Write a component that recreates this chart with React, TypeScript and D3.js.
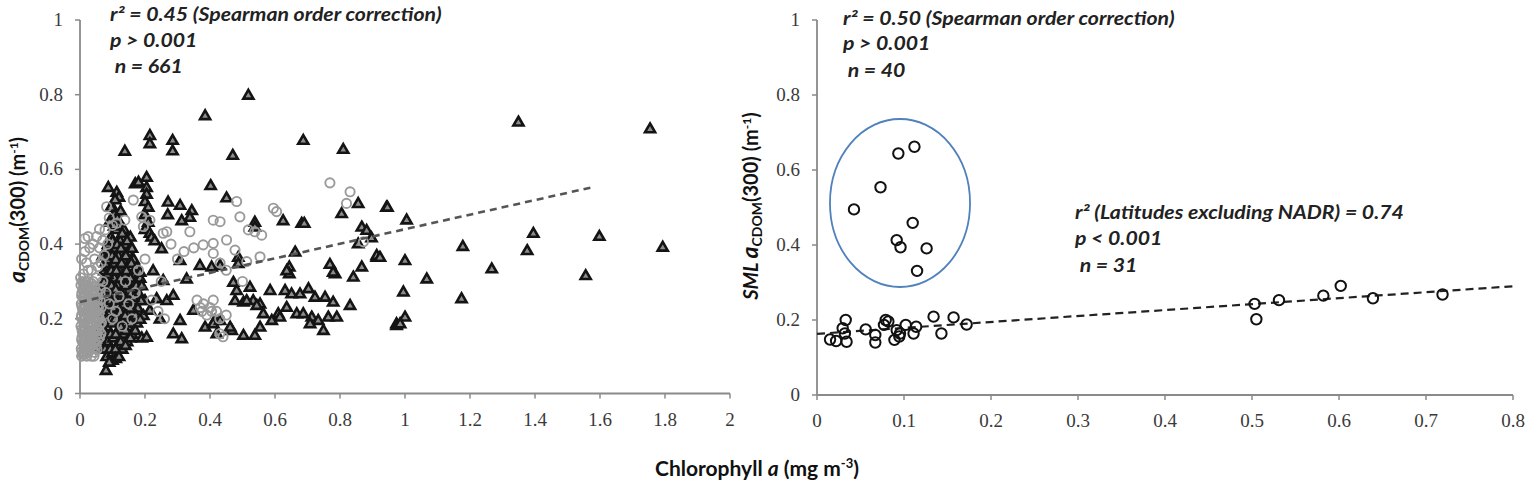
import React from 'react';
import * as d3 from 'd3';

// Left panel: open grey circles and dark triangles [chl a, aCDOM(300)]
const leftCircles: [number, number][] = [
  [0.004, 0.12], [0.006, 0.15], [0.003, 0.18], [0.005, 0.21], [0.004, 0.24], [0.006, 0.27], [0.003, 0.29], [0.005, 0.1],
  [0.012, 0.11], [0.014, 0.14], [0.011, 0.17], [0.013, 0.2], [0.012, 0.23], [0.015, 0.26], [0.013, 0.29], [0.016, 0.13],
  [0.021, 0.1], [0.022, 0.125], [0.02, 0.155], [0.023, 0.185], [0.021, 0.215], [0.024, 0.245], [0.022, 0.275], [0.025, 0.3],
  [0.03, 0.115], [0.032, 0.14], [0.029, 0.17], [0.031, 0.2], [0.033, 0.23], [0.03, 0.26], [0.032, 0.285],
  [0.04, 0.12], [0.041, 0.15], [0.039, 0.18], [0.042, 0.21], [0.04, 0.24], [0.043, 0.27],
  [0.05, 0.13], [0.052, 0.16], [0.049, 0.19], [0.051, 0.22], [0.053, 0.25],
  [0.058, 0.17], [0.06, 0.2], [0.057, 0.23],
  [0.008, 0.105], [0.009, 0.135], [0.007, 0.165], [0.009, 0.195], [0.008, 0.225], [0.01, 0.255], [0.009, 0.28],
  [0.017, 0.115], [0.018, 0.145], [0.017, 0.175], [0.018, 0.205], [0.017, 0.235], [0.019, 0.265],
  [0.026, 0.13], [0.027, 0.16], [0.026, 0.19], [0.027, 0.22], [0.026, 0.25], [0.028, 0.28],
  [0.035, 0.1], [0.036, 0.13], [0.035, 0.16], [0.036, 0.19], [0.035, 0.215], [0.037, 0.245], [0.036, 0.275],
  [0.045, 0.11], [0.046, 0.14], [0.045, 0.165], [0.047, 0.195], [0.046, 0.225], [0.047, 0.255],
  [0.006, 0.113], [0.005, 0.143], [0.006, 0.173], [0.004, 0.203], [0.006, 0.233], [0.005, 0.262], [0.007, 0.3],
  [0.015, 0.105], [0.014, 0.158], [0.015, 0.188], [0.014, 0.218], [0.015, 0.248], [0.016, 0.278], [0.018, 0.298],
  [0.024, 0.11], [0.025, 0.14], [0.024, 0.17], [0.025, 0.2], [0.024, 0.23], [0.025, 0.262], [0.023, 0.29],
  [0.033, 0.125], [0.034, 0.152], [0.033, 0.182], [0.034, 0.208], [0.033, 0.24], [0.034, 0.268], [0.035, 0.295],
  [0.043, 0.1], [0.044, 0.133], [0.043, 0.17], [0.044, 0.203], [0.043, 0.232], [0.044, 0.262], [0.045, 0.285],
  [0.052, 0.118], [0.053, 0.175], [0.052, 0.205], [0.054, 0.235], [0.053, 0.27], [0.06, 0.15], [0.061, 0.185],
  [0.059, 0.215], [0.062, 0.265], [0.065, 0.23], [0.066, 0.19], [0.064, 0.16],
  [0.055, 0.145], [0.056, 0.2], [0.062, 0.25], [0.063, 0.28], [0.002, 0.31], [0.04, 0.3], [0.05, 0.31], [0.025, 0.33],
  [0.055, 0.34], [0.005, 0.36], [0.015, 0.38], [0.04, 0.4], [0.07, 0.41], [0.075, 0.37], [0.085, 0.4], [0.06, 0.44], [0.025, 0.42],
  [0.01, 0.32], [0.02, 0.35], [0.035, 0.33], [0.045, 0.36], [0.03, 0.39], [0.015, 0.415], [0.051, 0.42], [0.06, 0.39],
  [0.065, 0.35], [0.077, 0.438], [0.082, 0.5], [0.09, 0.47], [0.1, 0.45], [0.113, 0.456], [0.138, 0.464], [0.164, 0.518],
  [0.19, 0.473], [0.215, 0.464], [0.195, 0.447], [0.07, 0.3], [0.08, 0.27], [0.09, 0.24], [0.1, 0.2], [0.11, 0.22],
  [0.12, 0.26], [0.13, 0.18], [0.14, 0.3], [0.15, 0.24], [0.16, 0.2], [0.17, 0.27], [0.18, 0.33], [0.2, 0.36],
  [0.22, 0.25], [0.24, 0.22], [0.25, 0.3], [0.26, 0.2], [0.28, 0.4], [0.3, 0.36], [0.256, 0.429], [0.267, 0.433],
  [0.32, 0.38], [0.338, 0.433], [0.35, 0.39], [0.36, 0.25], [0.37, 0.23], [0.375, 0.22], [0.38, 0.24], [0.39, 0.21],
  [0.4, 0.23], [0.405, 0.22], [0.41, 0.25], [0.42, 0.22], [0.43, 0.2], [0.44, 0.152], [0.45, 0.21], [0.379, 0.398],
  [0.41, 0.402], [0.41, 0.375], [0.41, 0.464], [0.431, 0.46], [0.451, 0.411], [0.477, 0.384], [0.431, 0.349], [0.482, 0.514],
  [0.492, 0.473], [0.518, 0.438], [0.538, 0.433], [0.559, 0.424], [0.554, 0.366], [0.513, 0.353], [0.595, 0.496], [0.605, 0.487],
  [0.769, 0.564], [0.831, 0.54], [0.82, 0.509], [0.872, 0.406], [0.5, 0.3], [0.45, 0.33], [0.43, 0.16],
];

const leftTriangles: [number, number][] = [
  [0.06, 0.12], [0.065, 0.16], [0.07, 0.2], [0.068, 0.24], [0.072, 0.28], [0.075, 0.33], [0.07, 0.37], [0.08, 0.063],
  [0.082, 0.1], [0.085, 0.14], [0.083, 0.18], [0.088, 0.22], [0.086, 0.26], [0.09, 0.3], [0.088, 0.34], [0.092, 0.38],
  [0.095, 0.42], [0.09, 0.46], [0.087, 0.553], [0.1, 0.11], [0.102, 0.15], [0.098, 0.19], [0.104, 0.23], [0.1, 0.27],
  [0.106, 0.31], [0.103, 0.35], [0.108, 0.39], [0.1, 0.5], [0.105, 0.48], [0.113, 0.54], [0.12, 0.527], [0.115, 0.13],
  [0.118, 0.17], [0.112, 0.21], [0.12, 0.25], [0.116, 0.29], [0.122, 0.33], [0.118, 0.37], [0.124, 0.41], [0.12, 0.45],
  [0.13, 0.12], [0.133, 0.16], [0.128, 0.2], [0.135, 0.24], [0.13, 0.28], [0.137, 0.32], [0.132, 0.36], [0.14, 0.4],
  [0.135, 0.44], [0.138, 0.65], [0.145, 0.14], [0.148, 0.18], [0.143, 0.22], [0.15, 0.26], [0.146, 0.3], [0.152, 0.34],
  [0.148, 0.38], [0.155, 0.42], [0.16, 0.16], [0.163, 0.2], [0.158, 0.24], [0.165, 0.28], [0.17, 0.32], [0.165, 0.36],
  [0.17, 0.563], [0.18, 0.567], [0.175, 0.19], [0.178, 0.23], [0.18, 0.27], [0.185, 0.31], [0.19, 0.15], [0.195, 0.21],
  [0.2, 0.25], [0.205, 0.58], [0.205, 0.553], [0.205, 0.535], [0.2, 0.515], [0.21, 0.5], [0.2, 0.48], [0.21, 0.46],
  [0.2, 0.44], [0.215, 0.43], [0.22, 0.42], [0.23, 0.41], [0.215, 0.692], [0.215, 0.67], [0.285, 0.679], [0.285, 0.651],
  [0.062, 0.14], [0.066, 0.18], [0.069, 0.22], [0.071, 0.26], [0.074, 0.3], [0.078, 0.35], [0.077, 0.12], [0.079, 0.16],
  [0.081, 0.2], [0.08, 0.24], [0.082, 0.28], [0.084, 0.32], [0.083, 0.36], [0.086, 0.4], [0.093, 0.12], [0.094, 0.16],
  [0.096, 0.2], [0.095, 0.25], [0.097, 0.29], [0.096, 0.33], [0.099, 0.37], [0.1, 0.41], [0.109, 0.12], [0.11, 0.16],
  [0.108, 0.2], [0.111, 0.25], [0.11, 0.28], [0.112, 0.33], [0.11, 0.36], [0.114, 0.4], [0.112, 0.44], [0.125, 0.14],
  [0.126, 0.18], [0.124, 0.22], [0.127, 0.27], [0.125, 0.31], [0.128, 0.35], [0.126, 0.39], [0.13, 0.43], [0.14, 0.13],
  [0.141, 0.17], [0.139, 0.21], [0.142, 0.25], [0.14, 0.29], [0.143, 0.33], [0.141, 0.37], [0.145, 0.41], [0.155, 0.15],
  [0.156, 0.19], [0.154, 0.23], [0.157, 0.27], [0.155, 0.31], [0.158, 0.35], [0.16, 0.39], [0.17, 0.17], [0.172, 0.21],
  [0.17, 0.25], [0.173, 0.29], [0.175, 0.34], [0.185, 0.2], [0.188, 0.25], [0.19, 0.29], [0.1, 0.09], [0.11, 0.095],
  [0.12, 0.1], [0.09, 0.085], [0.105, 0.45], [0.095, 0.5], [0.115, 0.47], [0.125, 0.49], [0.108, 0.52],
  [0.385, 0.745], [0.518, 0.8], [0.47, 0.639], [0.687, 0.679], [0.81, 0.655], [0.271, 0.514], [0.308, 0.505], [0.344, 0.491],
  [0.338, 0.473], [0.313, 0.464], [0.27, 0.48], [0.402, 0.558], [0.451, 0.525], [0.538, 0.46], [0.538, 0.447], [0.625, 0.464],
  [0.682, 0.457], [0.69, 0.457], [0.856, 0.51], [0.943, 0.5], [0.805, 0.483], [0.867, 0.447], [0.882, 0.438], [0.897, 0.418],
  [0.856, 0.402], [0.913, 0.366], [0.662, 0.38], [0.644, 0.34], [0.644, 0.322], [0.769, 0.347], [0.785, 0.322], [0.867, 0.34],
  [0.841, 0.313], [0.487, 0.366], [0.487, 0.349],
  [0.472, 0.299], [0.523, 0.286], [0.585, 0.277], [0.631, 0.277], [0.651, 0.268], [0.677, 0.268], [0.703, 0.282], [0.723, 0.259],
  [0.754, 0.259], [0.779, 0.246], [0.831, 0.237], [0.477, 0.25], [0.503, 0.246], [0.533, 0.25], [0.554, 0.241], [0.564, 0.215],
  [0.61, 0.215], [0.636, 0.232], [0.667, 0.215], [0.687, 0.215], [0.713, 0.206], [0.733, 0.197], [0.764, 0.206], [0.79, 0.206],
  [0.615, 0.206], [0.59, 0.197], [0.554, 0.179], [0.503, 0.157], [0.538, 0.157], [0.467, 0.17], [0.415, 0.197], [0.385, 0.179],
  [0.421, 0.161], [0.749, 0.17], [0.708, 0.188], [0.974, 0.188],
  [0.185, 0.326], [0.225, 0.33], [0.251, 0.389], [0.256, 0.304], [0.308, 0.357], [0.328, 0.308], [0.369, 0.344], [0.405, 0.34],
  [0.431, 0.344], [0.349, 0.224], [0.41, 0.188], [0.431, 0.197], [0.462, 0.179], [0.287, 0.161], [0.313, 0.148], [0.205, 0.152],
  [0.246, 0.201], [0.267, 0.25], [0.308, 0.197], [0.215, 0.224], [0.164, 0.259], [0.236, 0.255], [0.287, 0.264],
  [0.482, 0.277], [0.513, 0.25], [0.544, 0.237], [0.636, 0.33], [0.779, 0.326], [0.913, 0.371], [0.974, 0.183],
  [0.946, 0.5], [1.005, 0.466], [1.349, 0.728], [1.754, 0.71], [1.395, 0.43], [1.598, 0.422], [1.178, 0.395], [1.376, 0.384],
  [1.793, 0.393], [1.0, 0.357], [1.267, 0.335], [1.067, 0.308], [1.556, 0.317], [0.995, 0.273], [1.174, 0.255], [1.0, 0.206],
  [0.985, 0.188], [0.923, 0.366],
];

// Right panel: SML points
const rightPoints: [number, number][] = [
  [0.0425, 0.495], [0.073, 0.554], [0.0935, 0.644], [0.112, 0.662], [0.11, 0.459], [0.0916, 0.413], [0.096, 0.394], [0.126, 0.391],
  [0.115, 0.331],
  [0.015, 0.148], [0.022, 0.144], [0.033, 0.2], [0.0295, 0.178], [0.032, 0.164], [0.034, 0.142], [0.056, 0.175], [0.067, 0.16],
  [0.067, 0.14], [0.079, 0.2], [0.082, 0.196], [0.077, 0.187], [0.089, 0.147], [0.0916, 0.173], [0.0954, 0.164], [0.0946, 0.156],
  [0.102, 0.187], [0.111, 0.164], [0.114, 0.182], [0.134, 0.209], [0.143, 0.164], [0.157, 0.207], [0.172, 0.188],
  [0.503, 0.243], [0.505, 0.202], [0.531, 0.253], [0.582, 0.265], [0.602, 0.291], [0.639, 0.258], [0.719, 0.268],
];

const leftFit: [number, number][] = [[0, 0.245], [1.58, 0.553]];
const rightFit: [number, number][] = [[0, 0.163], [0.8, 0.29]];

const leftXTicks = [0, 0.2, 0.4, 0.6, 0.8, 1, 1.2, 1.4, 1.6, 1.8, 2];
const rightXTicks = [0, 0.1, 0.2, 0.3, 0.4, 0.5, 0.6, 0.7, 0.8];
const yTicks = [0, 0.2, 0.4, 0.6, 0.8, 1];

const W = 1535;
const H = 487;
const serif = 'Liberation Serif';
const sans = 'Lato, "Open Sans", sans-serif';
const axisColor = '#8a8a8a';
const tickColor = '#3a3a3a';

export default function App() {
  const xL = d3.scaleLinear().domain([0, 2]).range([80, 730]);
  const yL = d3.scaleLinear().domain([0, 1]).range([393.5, 20]);
  const xR = d3.scaleLinear().domain([0, 0.8]).range([817, 1513]);
  const yR = d3.scaleLinear().domain([0, 1]).range([395, 20]);
  const tri = d3.symbol().type(d3.symbolTriangle).size(44)() as string;

  const axes = (
    x: d3.ScaleLinear<number, number>,
    y: d3.ScaleLinear<number, number>,
    xt: number[],
    key: string
  ) => (
    <g key={key} style={{ fontFamily: serif }}>
      <line x1={x.range()[0]} x2={x.range()[1]} y1={y(0)} y2={y(0)} stroke={axisColor} strokeWidth={1.8} />
      <line x1={x.range()[0]} x2={x.range()[0]} y1={y(0)} y2={y(1)} stroke={axisColor} strokeWidth={1.8} />
      {xt.map((t) => (
        <g key={'x' + t}>
          <line x1={x(t)} x2={x(t)} y1={y(0)} y2={y(0) + 5} stroke={axisColor} strokeWidth={1.5} />
          <text x={x(t)} y={y(0) + 32} textAnchor="middle" style={{ fontFamily: serif }} fontSize={19} fill={tickColor}>
            {String(t)}
          </text>
        </g>
      ))}
      {yTicks.map((t) => (
        <g key={'y' + t}>
          <line x1={x.range()[0] - 5} x2={x.range()[0]} y1={y(t)} y2={y(t)} stroke={axisColor} strokeWidth={1.5} />
          <text x={x.range()[0] - 17} y={y(t) + 6} textAnchor="end" style={{ fontFamily: serif }} fontSize={19} fill={tickColor}>
            {String(t)}
          </text>
        </g>
      ))}
    </g>
  );

  const line = d3.line<[number, number]>();
  const note = (x: number, y: number, s: string) => (
    <text key={s + y} transform={`translate(${x},${y}) scale(1.18,1)`}>
      {s}
    </text>
  );

  return (
    <svg width={W} height={H} style={{ position: 'absolute', left: 0, top: 0, background: '#fff' }}>
      {axes(xL, yL, leftXTicks, 'L')}
      {axes(xR, yR, rightXTicks, 'R')}

      {/* left panel marks */}
      {leftTriangles.map((d, i) => (
        <path
          key={'t' + i}
          d={tri}
          transform={`translate(${xL(d[0])},${yL(d[1]) + 1})`}
          fill="#8c8c8c"
          stroke="#141414"
          strokeWidth={2.6}
        />
      ))}
      {leftCircles.map((d, i) => (
        <circle key={'c' + i} cx={xL(d[0])} cy={yL(d[1])} r={4.6} fill="none" stroke="#9a9a9a" strokeWidth={1.9} />
      ))}
      <path
        d={line(leftFit.map((d) => [xL(d[0]), yL(d[1])]) as [number, number][]) || ''}
        stroke="#555"
        strokeWidth={2.6}
        strokeDasharray="7,5"
        fill="none"
      />

      {/* right panel marks */}
      <ellipse
        cx={xR(0.0954)}
        cy={yR(0.512)}
        rx={xR(0.0954 + 0.0805) - xR(0.0954)}
        ry={yR(0.512) - yR(0.512 + 0.224)}
        fill="none"
        stroke="#4f81bd"
        strokeWidth={1.8}
      />
      <path
        d={line(rightFit.map((d) => [xR(d[0]), yR(d[1])]) as [number, number][]) || ''}
        stroke="#222"
        strokeWidth={2.2}
        strokeDasharray="8,5"
        fill="none"
      />
      {rightPoints.map((d, i) => (
        <circle key={'r' + i} cx={xR(d[0])} cy={yR(d[1])} r={5.2} fill="none" stroke="#111" strokeWidth={2} />
      ))}

      {/* annotations */}
      <g fontFamily={sans} fontWeight="bold" fontStyle="italic" fontSize={18} fill="#222">
        {note(110, 21, 'r² = 0.45 (Spearman order correction)')}
        {note(110, 47, 'p > 0.001')}
        {note(110, 73, '\u00a0n = 661')}
        {note(843, 25, 'r² = 0.50 (Spearman order correction)')}
        {note(843, 50, 'p > 0.001')}
        {note(843, 77, '\u00a0n = 40')}
        {note(1075, 219, 'r² (Latitudes excluding NADR) = 0.74')}
        {note(1075, 245, 'p < 0.001')}
        {note(1075, 272, '\u00a0n = 31')}
      </g>

      {/* axis titles */}
      <text
        transform="translate(25,210) rotate(-90)"
        textAnchor="middle"
        fontFamily={sans}
        fontWeight="bold"
        fontSize={20}
        fill="#111"
      >
        <tspan fontStyle="italic" fontSize={23}>a</tspan>
        <tspan fontSize={14} dy={4}>CDOM</tspan>
        <tspan dy={-4}>(300) (m</tspan>
        <tspan fontSize={12} dy={-7}>-1</tspan>
        <tspan dy={7}>)</tspan>
      </text>
      <text
        transform="translate(758,206) rotate(-90)"
        textAnchor="middle"
        fontFamily={sans}
        fontWeight="bold"
        fontSize={20}
        fill="#111"
      >
        <tspan fontStyle="italic">SML </tspan>
        <tspan fontStyle="italic" fontSize={23}>a</tspan>
        <tspan fontSize={14} dy={4}>CDOM</tspan>
        <tspan dy={-4}>(300) (m</tspan>
        <tspan fontSize={12} dy={-7}>-1</tspan>
        <tspan dy={7}>)</tspan>
      </text>
      <text x={757} y={476} textAnchor="middle" fontFamily={sans} fontWeight="bold" fontSize={21} fill="#111">
        Chlorophyll <tspan fontStyle="italic">a</tspan> (mg m<tspan fontSize={13} dy={-8}>-3</tspan>
        <tspan dy={8}>)</tspan>
      </text>
    </svg>
  );
}
